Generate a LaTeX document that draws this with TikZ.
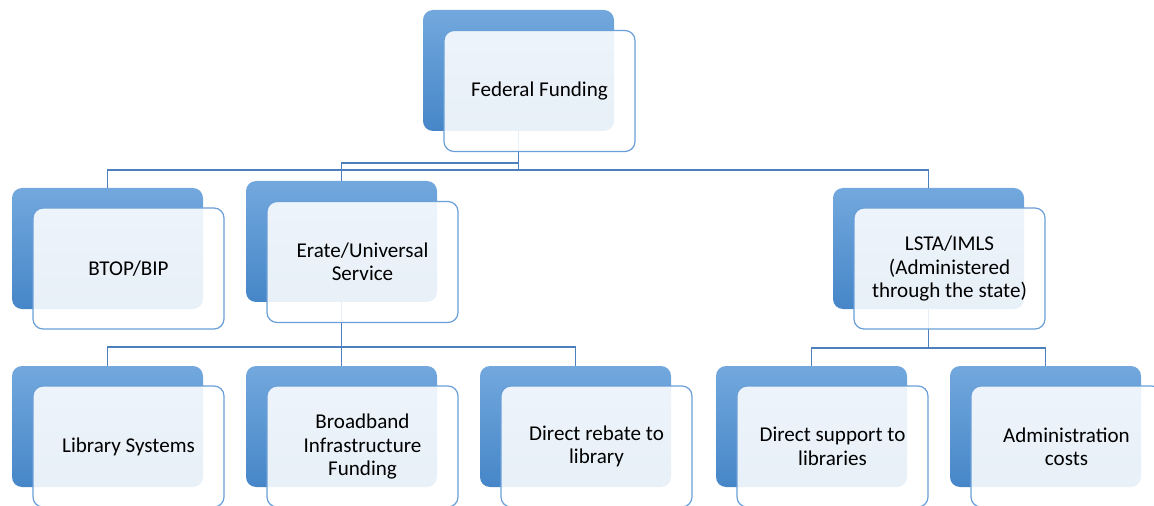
\documentclass[tikz,border=0pt]{standalone}
\usepackage{fontspec}
\setmainfont{Carlito}
\definecolor{backtop}{HTML}{72A8DD}
\definecolor{backbot}{HTML}{4686C8}
\definecolor{frontline}{HTML}{6A9FD8}
\definecolor{conn}{HTML}{4C7FBC}
\begin{document}
\begin{tikzpicture}[x=0.75pt,y=-0.75pt,
  backbox/.style={rectangle, rounded corners=7.5pt, minimum width=143.25pt, minimum height=90.75pt,
    inner sep=0pt, top color=backtop, bottom color=backbot, draw=none},
  frontbox/.style={rectangle, rounded corners=7.5pt, minimum width=143.25pt, minimum height=90.75pt,
    inner sep=0pt, fill=white, fill opacity=0.88, text opacity=1, draw=frontline, line width=0.9pt,
    align=center, font=\fontsize{15.8}{17.6}\selectfont, text=black},
  connector/.style={draw=conn, line width=0.9pt}
]
\useasboundingbox (0,0) rectangle (1154,506);
\clip (0,0) rectangle (1154,506);
% back boxes (centre = top-left + (95.5,60.5))
\node[backbox] (Fb) at (518.5,70.5) {};
\node[backbox] (Bb) at (107.5,248.5) {};
\node[backbox] (Eb) at (341.5,241.5) {};
\node[backbox] (Lb) at (928.5,248.5) {};
\node[backbox] (Sb) at (107.5,426.5) {};
\node[backbox] (Ib) at (341.5,426.5) {};
\node[backbox] (Rb) at (575.5,426.5) {};
\node[backbox] (Db) at (811.5,426.5) {};
\node[backbox] (Ab) at (1045.5,426.5) {};
% connectors
\coordinate (h1) at (0,170);
\coordinate (h2) at (0,163);
\coordinate (h3) at (0,347);
\coordinate (h4) at (0,348);
\draw[connector] (Fb.south) -- (Fb.south |- h1);
\draw[connector] (Bb.north) |- (Lb.north |- h1) -- (Lb.north);
\draw[connector] (Eb.north) |- (Fb.south |- h2);
\draw[connector] (Eb.south) -- (Eb.south |- h3);
\draw[connector] (Sb.north) |- (Rb.north |- h3) -- (Rb.north);
\draw[connector] (Ib.north) -- (Ib.north |- h3);
\draw[connector] (Lb.south) -- (Lb.south |- h4);
\draw[connector] (Db.north) |- (Ab.north |- h4) -- (Ab.north);
% front boxes
\node[frontbox] (F) at (539.5,91) {Federal Funding};
\node[frontbox] (B) at (128.5,268.5) {BTOP/BIP};
\node[frontbox] (E) at (362.5,262) {Erate/Universal\\Service};
\node[frontbox] (L) at (949.5,268.5) {LSTA/IMLS\\(Administered\\through the state)};
\node[frontbox] (S) at (128.5,446.5) {Library Systems};
\node[frontbox] (I) at (362.5,446.5) {Broadband\\Infrastructure\\Funding};
\node[frontbox] (R) at (596.5,446.5) {Direct rebate to\\library};
\node[frontbox] (D) at (832.5,446.5) {Direct support to\\libraries};
\node[frontbox] (A) at (1066.5,446.5) {Administration\\costs};
\end{tikzpicture}
\end{document}
